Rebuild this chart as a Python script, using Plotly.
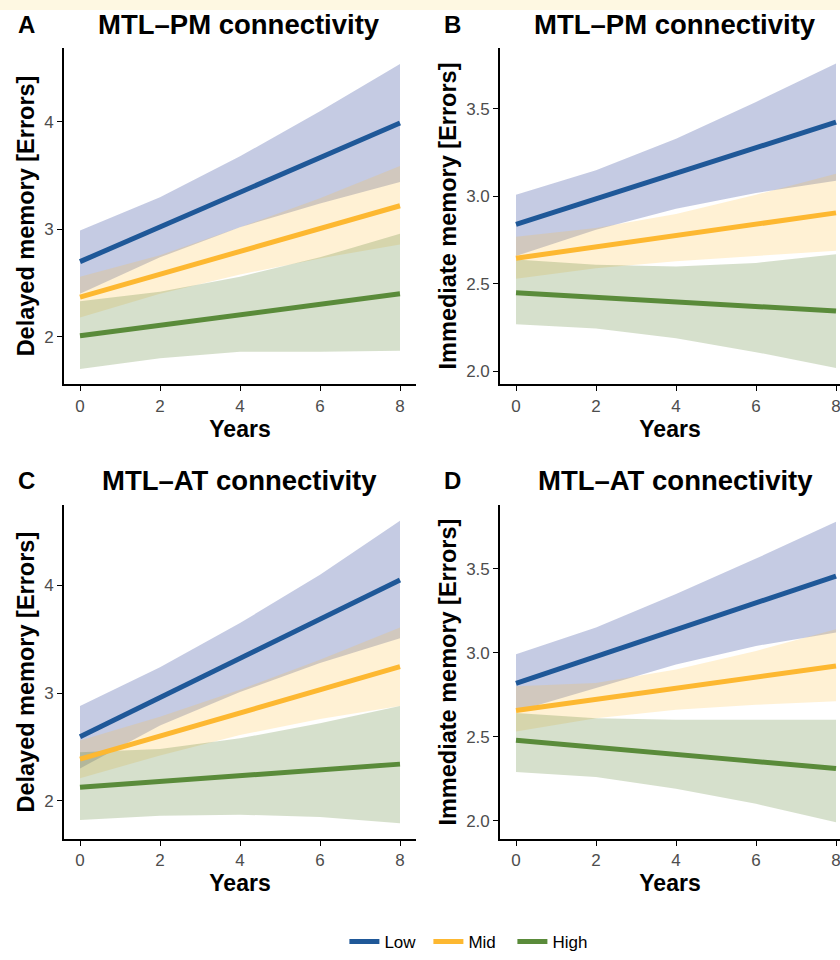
import plotly.graph_objects as go

# ---------------- data ----------------
years = [0, 2, 4, 6, 8]
line_years = [0, 8]
groups = ["Low", "Mid", "High"]
x_ticks = [0, 2, 4, 6, 8]

# Panel A: MTL-PM, delayed memory
a_low_line = [2.70, 3.99]
a_low_upper = [2.99, 3.30, 3.68, 4.10, 4.54]
a_low_lower = [2.40, 2.74, 3.02, 3.24, 3.44]
a_mid_line = [2.37, 3.22]
a_mid_upper = [2.56, 2.76, 3.02, 3.29, 3.59]
a_mid_lower = [2.18, 2.40, 2.58, 2.73, 2.86]
a_high_line = [2.01, 2.40]
a_high_upper = [2.33, 2.42, 2.56, 2.74, 2.96]
a_high_lower = [1.70, 1.80, 1.86, 1.86, 1.87]

# Panel B: MTL-PM, immediate memory
b_low_line = [2.84, 3.425]
b_low_upper = [3.01, 3.15, 3.33, 3.54, 3.76]
b_low_lower = [2.66, 2.81, 2.93, 3.02, 3.09]
b_mid_line = [2.647, 2.906]
b_mid_upper = [2.77, 2.82, 2.90, 3.01, 3.13]
b_mid_lower = [2.53, 2.59, 2.63, 2.66, 2.69]
b_high_line = [2.45, 2.345]
b_high_upper = [2.64, 2.61, 2.60, 2.62, 2.67]
b_high_lower = [2.27, 2.245, 2.19, 2.11, 2.02]

# Panel C: MTL-AT, delayed memory
c_low_line = [2.595, 4.05]
c_low_upper = [2.88, 3.24, 3.65, 4.10, 4.60]
c_low_lower = [2.30, 2.70, 3.01, 3.28, 3.51]
c_mid_line = [2.386, 3.245]
c_mid_upper = [2.56, 2.78, 3.03, 3.31, 3.61]
c_mid_lower = [2.21, 2.42, 2.61, 2.76, 2.88]
c_high_line = [2.126, 2.34]
c_high_upper = [2.45, 2.48, 2.58, 2.72, 2.88]
c_high_lower = [1.82, 1.86, 1.87, 1.85, 1.79]

# Panel D: MTL-AT, immediate memory
d_low_line = [2.817, 3.456]
d_low_upper = [2.99, 3.15, 3.35, 3.56, 3.78]
d_low_lower = [2.65, 2.79, 2.93, 3.04, 3.12]
d_mid_line = [2.656, 2.92]
d_mid_upper = [2.80, 2.82, 2.90, 3.01, 3.14]
d_mid_lower = [2.53, 2.61, 2.66, 2.69, 2.71]
d_high_line = [2.479, 2.31]
d_high_upper = [2.64, 2.61, 2.60, 2.60, 2.60]
d_high_lower = [2.29, 2.26, 2.19, 2.10, 1.99]

panel_letters = ["A", "B", "C", "D"]
panel_titles = ["MTL\u2013PM connectivity", "MTL\u2013PM connectivity",
                "MTL\u2013AT connectivity", "MTL\u2013AT connectivity"]
y_titles = ["Delayed memory [Errors]", "Immediate memory [Errors]",
            "Delayed memory [Errors]", "Immediate memory [Errors]"]
x_title = "Years"
y_tickvals = [[2, 3, 4], [2.0, 2.5, 3.0, 3.5], [2, 3, 4], [2.0, 2.5, 3.0, 3.5]]
y_ticktext = [["2", "3", "4"], ["2.0", "2.5", "3.0", "3.5"],
              ["2", "3", "4"], ["2.0", "2.5", "3.0", "3.5"]]

panels = [
    [(a_low_line, a_low_upper, a_low_lower), (a_mid_line, a_mid_upper, a_mid_lower),
     (a_high_line, a_high_upper, a_high_lower)],
    [(b_low_line, b_low_upper, b_low_lower), (b_mid_line, b_mid_upper, b_mid_lower),
     (b_high_line, b_high_upper, b_high_lower)],
    [(c_low_line, c_low_upper, c_low_lower), (c_mid_line, c_mid_upper, c_mid_lower),
     (c_high_line, c_high_upper, c_high_lower)],
    [(d_low_line, d_low_upper, d_low_lower), (d_mid_line, d_mid_upper, d_mid_lower),
     (d_high_line, d_high_upper, d_high_lower)],
]

# ---------------- style ----------------
W, H = 840, 960
FONT = "Liberation Sans, Arial, sans-serif"
line_colors = ["#1F5898", "#FDB831", "#5A8B3A"]
fill_colors = ["rgba(40,62,150,0.27)", "rgba(253,190,60,0.22)", "rgba(90,130,50,0.25)"]

geom = [(64, 416, 48, 388), (500, 840, 48, 388), (64, 416, 510, 847), (500, 840, 510, 847)]
x_ranges = [[-0.4, 8.4], [-0.4, 8.1], [-0.4, 8.4], [-0.4, 8.1]]
y_ranges = [[1.5575, 4.6925], [1.926, 3.851], [1.644, 4.745], [1.89, 3.878]]

fig = go.Figure()

for p, series in enumerate(panels):
    xa = "x" if p == 0 else f"x{p+1}"
    ya = "y" if p == 0 else f"y{p+1}"
    for g, (ln, up, lo) in enumerate(series):
        fig.add_trace(go.Scatter(
            x=years + years[::-1], y=up + lo[::-1], fill="toself",
            fillcolor=fill_colors[g], line=dict(width=0), mode="lines",
            hoverinfo="skip", showlegend=False, xaxis=xa, yaxis=ya))
    for g, (ln, up, lo) in enumerate(series):
        fig.add_trace(go.Scatter(
            x=line_years, y=ln, mode="lines",
            line=dict(color=line_colors[g], width=5),
            name=groups[g], legendgroup=groups[g], showlegend=(p == 0),
            xaxis=xa, yaxis=ya))

layout = dict(
    width=W, height=H, margin=dict(l=0, r=0, t=0, b=0),
    paper_bgcolor="white", plot_bgcolor="white",
    font=dict(family=FONT, color="black"),
    showlegend=True,
    legend=dict(orientation="h", x=0.41, xanchor="left", y=1 - 951 / H, yanchor="middle",
                font=dict(size=17, family=FONT, color="black"), itemwidth=30,
                entrywidth=39, entrywidthmode="pixels",
                bgcolor="rgba(0,0,0,0)", tracegroupgap=0),
)

annotations = []
for p in range(4):
    x0, x1, yt, yb = geom[p]
    xk = "xaxis" if p == 0 else f"xaxis{p+1}"
    yk = "yaxis" if p == 0 else f"yaxis{p+1}"
    ya = "y" if p == 0 else f"y{p+1}"
    xa = "x" if p == 0 else f"x{p+1}"
    layout[xk] = dict(
        domain=[x0 / W, x1 / W], range=x_ranges[p], anchor=ya,
        tickvals=x_ticks, ticktext=[str(t) for t in x_ticks],
        ticklabeloverflow="allow",
        showline=True, linecolor="black", linewidth=1.6, mirror=False,
        ticks="outside", ticklen=5, tickcolor="black", tickwidth=1.2,
        showgrid=False, zeroline=False,
        tickfont=dict(size=17, color="#4D4D4D", family=FONT),
        title=dict(text=f"<b>{x_title}</b>", font=dict(size=23, family=FONT, color="black"),
                   standoff=1),
    )
    layout[yk] = dict(
        domain=[1 - yb / H, 1 - yt / H], range=y_ranges[p], anchor=xa,
        tickvals=y_tickvals[p], ticktext=y_ticktext[p],
        showline=True, linecolor="black", linewidth=1.6,
        ticks="outside", ticklen=5, tickcolor="black", tickwidth=1.2,
        showgrid=False, zeroline=False,
        tickfont=dict(size=17, color="#4D4D4D", family=FONT),
        title=dict(text=f"<b>{y_titles[p]}</b>", font=dict(size=23.5, family=FONT, color="black"),
                   standoff=3),
    )
    ly = 25 if p < 2 else 485
    lx = 26 if p % 2 == 0 else 452
    annotations.append(dict(
        text=f"<b>{panel_letters[p]}</b>", x=lx / W, y=1 - ly / H, xref="paper", yref="paper",
        xanchor="center", yanchor="middle", showarrow=False,
        font=dict(size=24, family=FONT, color="black")))
    tx = 239 if p % 2 == 0 else 675
    annotations.append(dict(
        text=f"<b>{panel_titles[p]}</b>", x=tx / W, y=1 - ly / H, xref="paper", yref="paper",
        xanchor="center", yanchor="middle", showarrow=False,
        font=dict(size=27.5, family=FONT, color="black")))

layout["annotations"] = annotations
layout["shapes"] = [dict(type="rect", xref="paper", yref="paper", x0=0, x1=1,
                         y0=1 - 10 / H, y1=1, fillcolor="#FEF8E2", line=dict(width=0),
                         layer="below")]

fig.update_layout(**layout)
fig.write_html("out.html")
